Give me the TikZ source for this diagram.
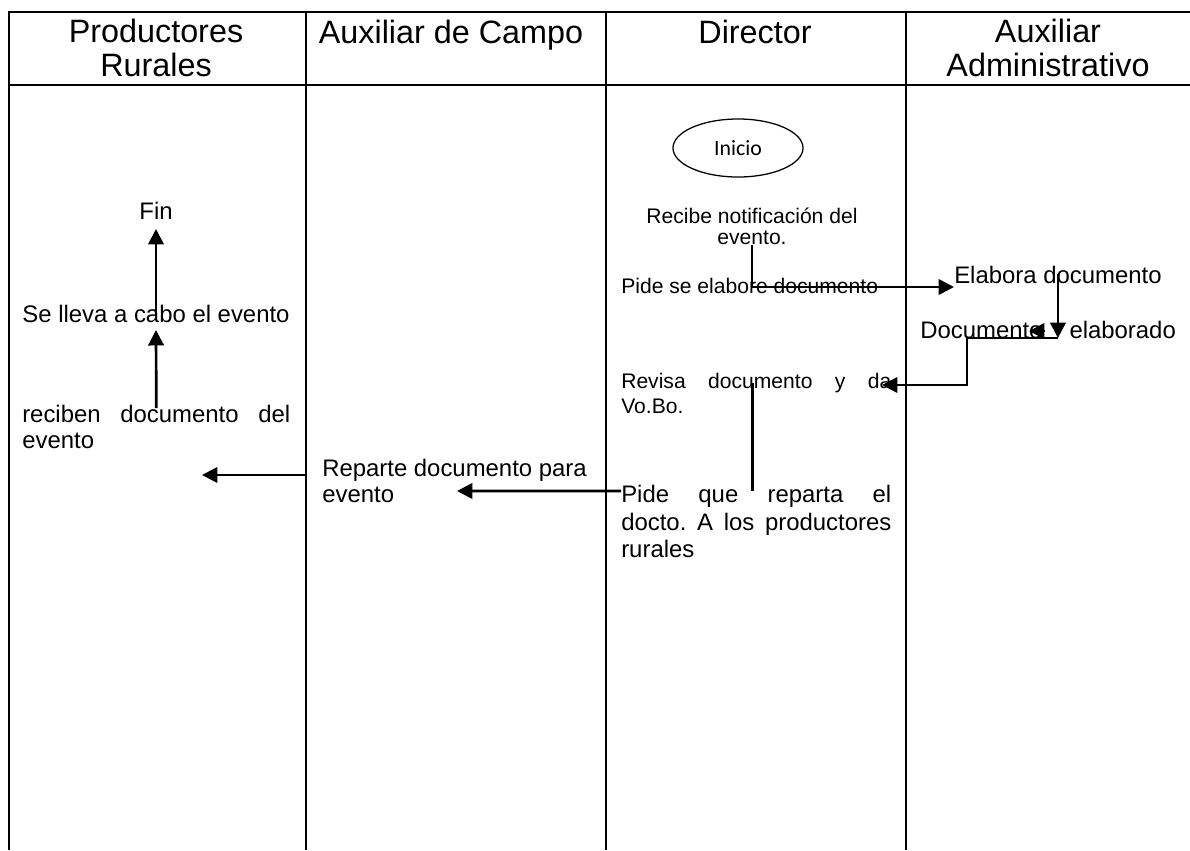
\documentclass[tikz,border=0pt]{standalone}
\usepackage{fontspec}
\setmainfont{Liberation Sans}
\newfontfamily\calibri{Carlito}
\usetikzlibrary{arrows.meta,shapes.geometric}
\hyphenpenalty=10000
\exhyphenpenalty=10000
\frenchspacing

\tikzset{
    tabla/.style={black, line width=1.4pt},
    linea/.style={black, line width=1.9pt},
    flecha/.style={linea, -{Triangle[length=11pt,width=11pt]}},
    encab/.style={font=\fontsize{23}{24.5}\selectfont, align=center, inner sep=0pt},
    texto/.style={font=\fontsize{17}{18.4}\selectfont, inner sep=0pt},
    textodir/.style={font=\fontsize{15}{17.7}\selectfont, inner sep=0pt},
    parrafo/.style={text width=6.7cm, align=justify},
}

\begin{document}
\begin{tikzpicture}[x=0.025cm, y=-0.025cm]
    \useasboundingbox (0,0) rectangle (1190,850);

    % Tabla
    \draw[tabla] (9,850) -- (9,12) -- (1190,12);
    \draw[tabla] (9,85) -- (1190,85);
    \draw[tabla] (306,12) -- (306,850);
    \draw[tabla] (606,12) -- (606,850);
    \draw[tabla] (906,12) -- (906,850);

    % Encabezados
    \node[encab] (productores) at (156,48) {Productores\\Rurales};
    \node[encab, anchor=base] (auxcampo) at (451,43) {Auxiliar de Campo};
    \node[encab, anchor=base] (director) at (755,43) {Director};
    \node[encab] (auxadmin) at (1048,48) {Auxiliar\\Administrativo};

    % Productores rurales
    \node[texto, anchor=base] (fin) at (156,219) {Fin};
    \node[texto, anchor=base] (lleva) at (156,322) {Se lleva a cabo el evento};
    \node[texto, parrafo, anchor=north west] (reciben) at (22,405) {reciben documento del\linebreak evento};

    % Auxiliar de campo
    \node[texto, align=left, anchor=north west] (reparte) at (322,459) {Reparte documento para\\evento};

    % Director
    \node[draw, ellipse, line width=0.9pt, minimum width=3.25cm, minimum height=1.45cm,
          font=\calibri\fontsize{15.5}{17}\selectfont] (inicio) at (738,148) {Inicio};
    \node[textodir, align=center, anchor=north, font=\fontsize{15}{14.5}\selectfont] (recibe) at (752,208) {Recibe notificación del\\evento.};
    \node[textodir, anchor=base west] (pideelab) at (621,293) {Pide se elabore documento};
    \node[textodir, parrafo, text width=6.75cm, anchor=north west] (revisa) at (621,373) {Revisa documento y da\linebreak Vo.Bo.};
    \node[texto, parrafo, text width=6.75cm, anchor=north west, font=\fontsize{17}{19.5}\selectfont] (pidereparta) at (621,485) {Pide que reparta el\linebreak docto. A los productores\linebreak rurales};

    % Auxiliar administrativo
    \node[texto, anchor=base west] (elabora) at (954,283) {Elabora documento};
    \node[texto, anchor=base west] (elaborado) at (920,338) {Documento\hspace{0.675cm}elaborado};

    % Puntos sueltos
    \coordinate (llegarevisa) at (882,385);
    \coordinate (puntaa) at (1045,331);
    \coordinate (puntab) at (1029,331);
    \coordinate (llegareparte) at (457,491);
    \coordinate (salereparte) at (305,475);
    \coordinate (llegareciben) at (202,475);

    % Conectores
    \draw[flecha] (recibe.south) |- ([yshift=-0.1cm]elabora.base west);
    \draw[flecha] (elabora.center) -- (elabora.center |- elaborado.base);
    \draw[flecha] (elabora.center |- elaborado.base) -- ++(-91,0) |- (llegarevisa);
    \draw[flecha] (puntaa) -- (puntab);
    \draw[linea] ([xshift=-0.1cm,yshift=-0.25cm]revisa.north) -- ([xshift=-0.1cm,yshift=-0.15cm]pidereparta.north);
    \draw[flecha] ([yshift=-0.15cm]pidereparta.north west) -- (llegareparte);
    \draw[flecha] (salereparte) -- (llegareciben);
    \draw[flecha] ([yshift=-0.075cm]reciben.north) -- ([yshift=-0.2cm]lleva.base);
    \draw[flecha] (lleva.center) -- ([yshift=-0.25cm]fin.base);

\end{tikzpicture}
\end{document}
